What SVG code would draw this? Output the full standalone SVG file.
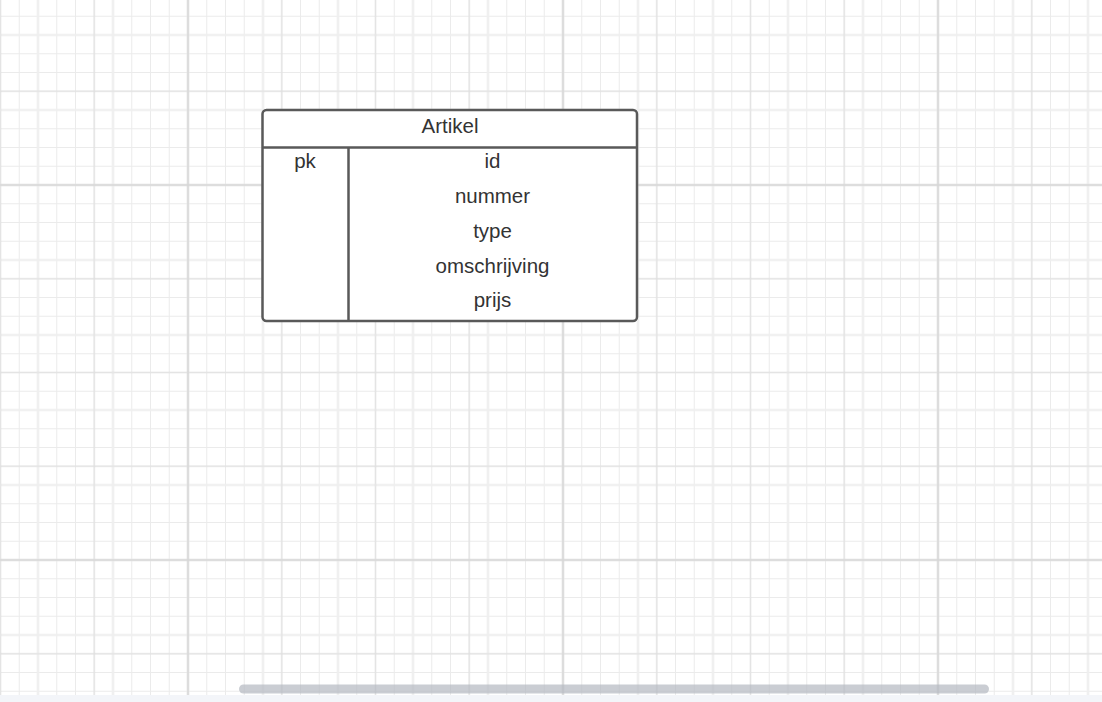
<svg xmlns="http://www.w3.org/2000/svg" width="1102" height="702" viewBox="0 0 1102 702">
<style>
.t{font-family:"Liberation Sans",Arial,sans-serif;font-size:20.5px;fill:#333333;text-anchor:middle}
.box{fill:#ffffff;stroke:#595959;stroke-width:2.5}
.div{stroke:#595959;stroke-width:2.5;fill:none}
</style>
<defs>
<pattern id="gMinor" patternUnits="userSpaceOnUse" x="-8.875" y="-11.875" width="18.75" height="18.75">
<path d="M9.375 0V18.75M0 9.375H18.75" stroke="#ebebeb" stroke-width="1" fill="none"/>
</pattern>
<pattern id="gQuad" patternUnits="userSpaceOnUse" x="0.5" y="-2.5" width="75" height="75">
<path d="M37.5 0V75M0 37.5H75" stroke="#efefef" stroke-width="2.2" fill="none"/>
</pattern>
<pattern id="gMed" patternUnits="userSpaceOnUse" x="47.375" y="44.375" width="93.75" height="93.75">
<path d="M46.875 0V93.75M0 46.875H93.75" stroke="#dedede" stroke-width="1" fill="none"/>
</pattern>
<pattern id="gMajor" patternUnits="userSpaceOnUse" x="0.5" y="-2.5" width="375" height="375">
<path d="M187.5 0V375M0 187.5H375" stroke="#d6d6d6" stroke-width="1.5" fill="none"/>
</pattern>
</defs>
<g id="background">
<rect x="0" y="0" width="1102" height="702" fill="#ffffff"/>
<rect x="0" y="0" width="1102" height="695" fill="url(#gMinor)"/>
<rect x="0" y="0" width="1102" height="695" fill="url(#gQuad)"/>
<rect x="0" y="0" width="1102" height="695" fill="url(#gMed)"/>
<rect x="0" y="0" width="1102" height="695" fill="url(#gMajor)"/>
<rect x="0" y="695" width="1102" height="7" fill="#f3f5f9"/>
<rect x="239" y="684.5" width="750" height="9" rx="4.5" fill="#b4b8c0" fill-opacity="0.7"/>
</g>
<g id="connectors"></g>
<g id="Artikel">
<rect class="box" x="262.5" y="110" width="374.5" height="211" rx="4"/>
<path class="div" d="M262.5 147.5H637M348.5 147.5V321"/>
<text class="t" x="450" y="133">Artikel</text>
<text class="t" x="305" y="168">pk</text>
<text class="t" x="492.5" y="168">id</text>
<text class="t" x="492.5" y="203">nummer</text>
<text class="t" x="492.5" y="238">type</text>
<text class="t" x="492.5" y="273">omschrijving</text>
<text class="t" x="492.5" y="307">prijs</text>
</g>
</svg>
